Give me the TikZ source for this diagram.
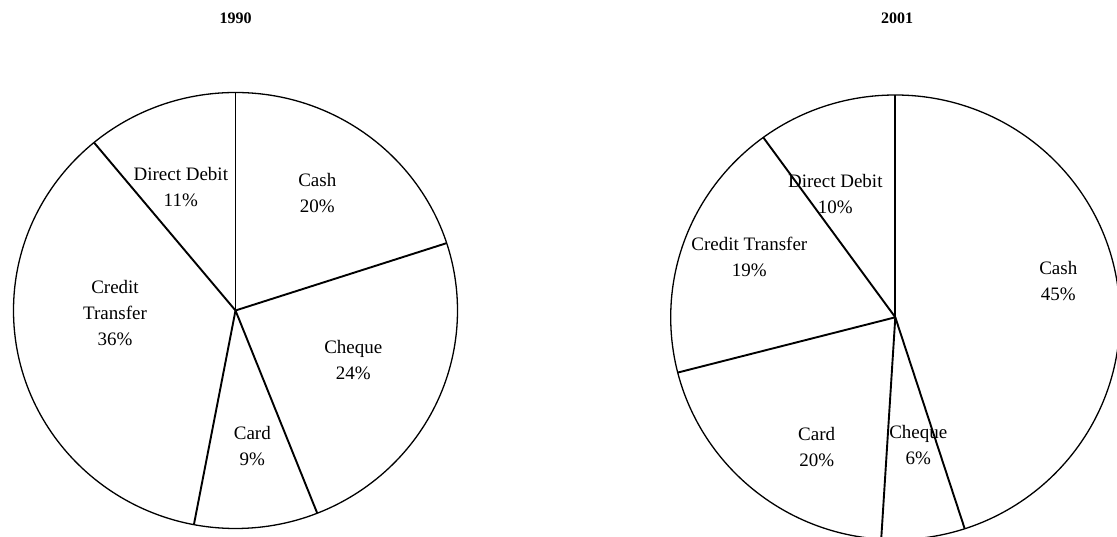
\documentclass[tikz,border=0pt]{standalone}
\usepackage{fontspec}
\setmainfont{Liberation Serif}
\begin{document}
\begin{tikzpicture}[x=1pt,y=1pt,
  pie/.style={line width=1.3pt},
  wedge/.style={line width=1.9pt},
  lbl/.style={align=center,font=\fontsize{19}{26}\selectfont,inner sep=0pt},
  ttl/.style={font=\fontsize{16}{18}\selectfont\bfseries,anchor=base}]
\useasboundingbox (0,0) rectangle (1117,537);
\clip (0,0) rectangle (1117,537);
% titles
\node[ttl] (t1990) at (235.5,513) {1990};
\node[ttl] (t2001) at (897,513) {2001};
% left pie (1990)
\coordinate (L) at (235.5,226.5);
\draw[pie] (L) ellipse [x radius=222, y radius=218];
\foreach \a in {90,18,-68.4,-100.8,129.6}
  \draw[wedge] (L) -- ++({222*cos(\a)},{218*sin(\a)});
\node[lbl] (l-dd) at (180.8,349.8) {Direct Debit\\11\%};
\node[lbl] (l-cash) at (317.3,344) {Cash\\20\%};
\node[lbl] (l-ct) at (115,223.7) {Credit\\Transfer\\36\%};
\node[lbl] (l-chq) at (353.3,177.3) {Cheque\\24\%};
\node[lbl] (l-card) at (252.3,91) {Card\\9\%};
% right pie (2001)
\coordinate (R) at (895.3,219.7);
\draw[pie] (R) ellipse [x radius=224.6, y radius=222.3];
\foreach \a in {90,-72,-93.6,-165.6,126}
  \draw[wedge] (R) -- ++({224.6*cos(\a)},{222.3*sin(\a)});
\node[lbl] (r-dd) at (835.3,342.5) {Direct Debit\\10\%};
\node[lbl] (r-ct) at (749.3,280.3) {Credit Transfer\\19\%};
\node[lbl] (r-cash) at (1058.3,256.2) {Cash\\45\%};
\node[lbl] (r-card) at (816.7,90) {Card\\20\%};
\node[lbl] (r-chq) at (918.3,92) {Cheque\\6\%};
\end{tikzpicture}
\end{document}
